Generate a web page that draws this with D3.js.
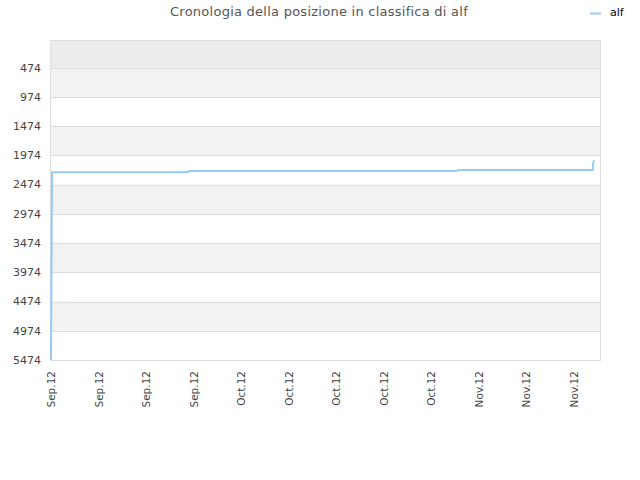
<!DOCTYPE html>
<html>
<head>
<meta charset="utf-8">
<script src="https://cdn.jsdelivr.net/npm/d3@7"></script>
<style>
  body { margin: 0; background: #fff; }
  text { font-family: "DejaVu Sans", sans-serif; }
</style>
</head>
<body>
<svg id="chart" width="640" height="480"></svg>
<script>
// chart data
var seriesName = "alf";
var titleText = "Cronologia della posizione in classifica di alf";
var rankDates = ["2012-09-12T00:00", "2012-09-12T03:00", "2012-09-29T06:00", "2012-09-29T10:00",
                 "2012-11-02T06:00", "2012-11-02T10:00", "2012-11-19T10:00", "2012-11-19T11:00", "2012-11-19T15:00"];
var rankValues = [5474, 2262, 2262, 2243, 2243, 2225, 2225, 2110, 2060];
var yTicks = [474, 974, 1474, 1974, 2474, 2974, 3474, 3974, 4474, 4974, 5474];
var xTickDates = ["2012-09-12", "2012-09-18", "2012-09-24", "2012-09-30", "2012-10-06", "2012-10-12",
                  "2012-10-18", "2012-10-24", "2012-10-30", "2012-11-05", "2012-11-11", "2012-11-17"];

// colours
var lineColour = "#99c9f5";
var gridColour = "#dddddd";
var bandColour = "#f2f2f2";
var topBandColour = "#ececec";
var textColour = "#444444";

var parse = d3.timeParse("%Y-%m-%dT%H:%M");
var parseDay = d3.timeParse("%Y-%m-%d");
var fmt = d3.timeFormat("%b.%y");

var plotLeft = 50, plotRight = 600, plotTop = 40, plotBottom = 360;

var svg = d3.select("#chart");

var x = d3.scaleTime()
  .domain([parse("2012-09-12T00:00"), parse("2012-11-20T08:00")])
  .range([plotLeft + 1, plotRight]);

var y = d3.scaleLinear()
  .domain([0, 5474])
  .range([plotTop, plotBottom]);

// background bands
var bandEdges = [0].concat(yTicks);
var bands = [];
for (var i = 0; i < bandEdges.length - 1; i++) {
  bands.push({ from: bandEdges[i], to: bandEdges[i + 1], i: i });
}
svg.append("g").selectAll("rect")
  .data(bands)
  .enter().append("rect")
  .attr("x", plotLeft)
  .attr("width", plotRight - plotLeft)
  .attr("y", function (d) { return y(d.from); })
  .attr("height", function (d) { return y(d.to) - y(d.from); })
  .attr("fill", function (d) {
    if (d.i === 0) return topBandColour;
    return d.i % 2 === 1 ? bandColour : "#ffffff";
  });

// grid lines
svg.append("g").selectAll("line")
  .data(yTicks)
  .enter().append("line")
  .attr("x1", plotLeft).attr("x2", plotRight)
  .attr("y1", function (d) { return Math.round(y(d)) + 0.5; })
  .attr("y2", function (d) { return Math.round(y(d)) + 0.5; })
  .attr("stroke", gridColour)
  .attr("stroke-width", 1);

// frame
svg.append("rect")
  .attr("x", plotLeft + 0.5).attr("y", plotTop + 0.5)
  .attr("width", plotRight - plotLeft).attr("height", plotBottom - plotTop)
  .attr("fill", "none")
  .attr("stroke", gridColour)
  .attr("stroke-width", 1);

// y axis labels
svg.append("g").selectAll("text")
  .data(yTicks)
  .enter().append("text")
  .attr("x", plotLeft - 9)
  .attr("y", function (d) { return y(d); })
  .attr("dy", "0.35em")
  .attr("text-anchor", "end")
  .attr("font-size", 11)
  .attr("fill", textColour)
  .text(function (d) { return d; });

// x axis labels
svg.append("g").selectAll("text")
  .data(xTickDates)
  .enter().append("text")
  .attr("transform", function (d) {
    return "translate(" + (x(parseDay(d)) + 4) + "," + (plotBottom + 11) + ") rotate(-90)";
  })
  .attr("text-anchor", "end")
  .attr("font-size", 10.5)
  .attr("fill", textColour)
  .text(function (d) { return fmt(parseDay(d)); });

// series line
var points = rankDates.map(function (d, i) { return { date: parse(d), value: rankValues[i] }; });
var line = d3.line()
  .x(function (d) { return x(d.date); })
  .y(function (d) { return y(d.value); });

svg.append("path")
  .datum(points)
  .attr("d", line)
  .attr("fill", "none")
  .attr("stroke", lineColour)
  .attr("stroke-width", 2);

// title
svg.append("text")
  .attr("x", 319)
  .attr("y", 16)
  .attr("text-anchor", "middle")
  .attr("font-size", 13)
  .attr("letter-spacing", 0.25)
  .attr("fill", "#555555")
  .text(titleText);

// legend
svg.append("line")
  .attr("x1", 590).attr("x2", 601)
  .attr("y1", 13.5).attr("y2", 13.5)
  .attr("stroke", lineColour)
  .attr("stroke-width", 2);
svg.append("text")
  .attr("x", 610)
  .attr("y", 16)
  .attr("font-size", 11)
  .attr("fill", "#000000")
  .text(seriesName);
</script>
</body>
</html>
